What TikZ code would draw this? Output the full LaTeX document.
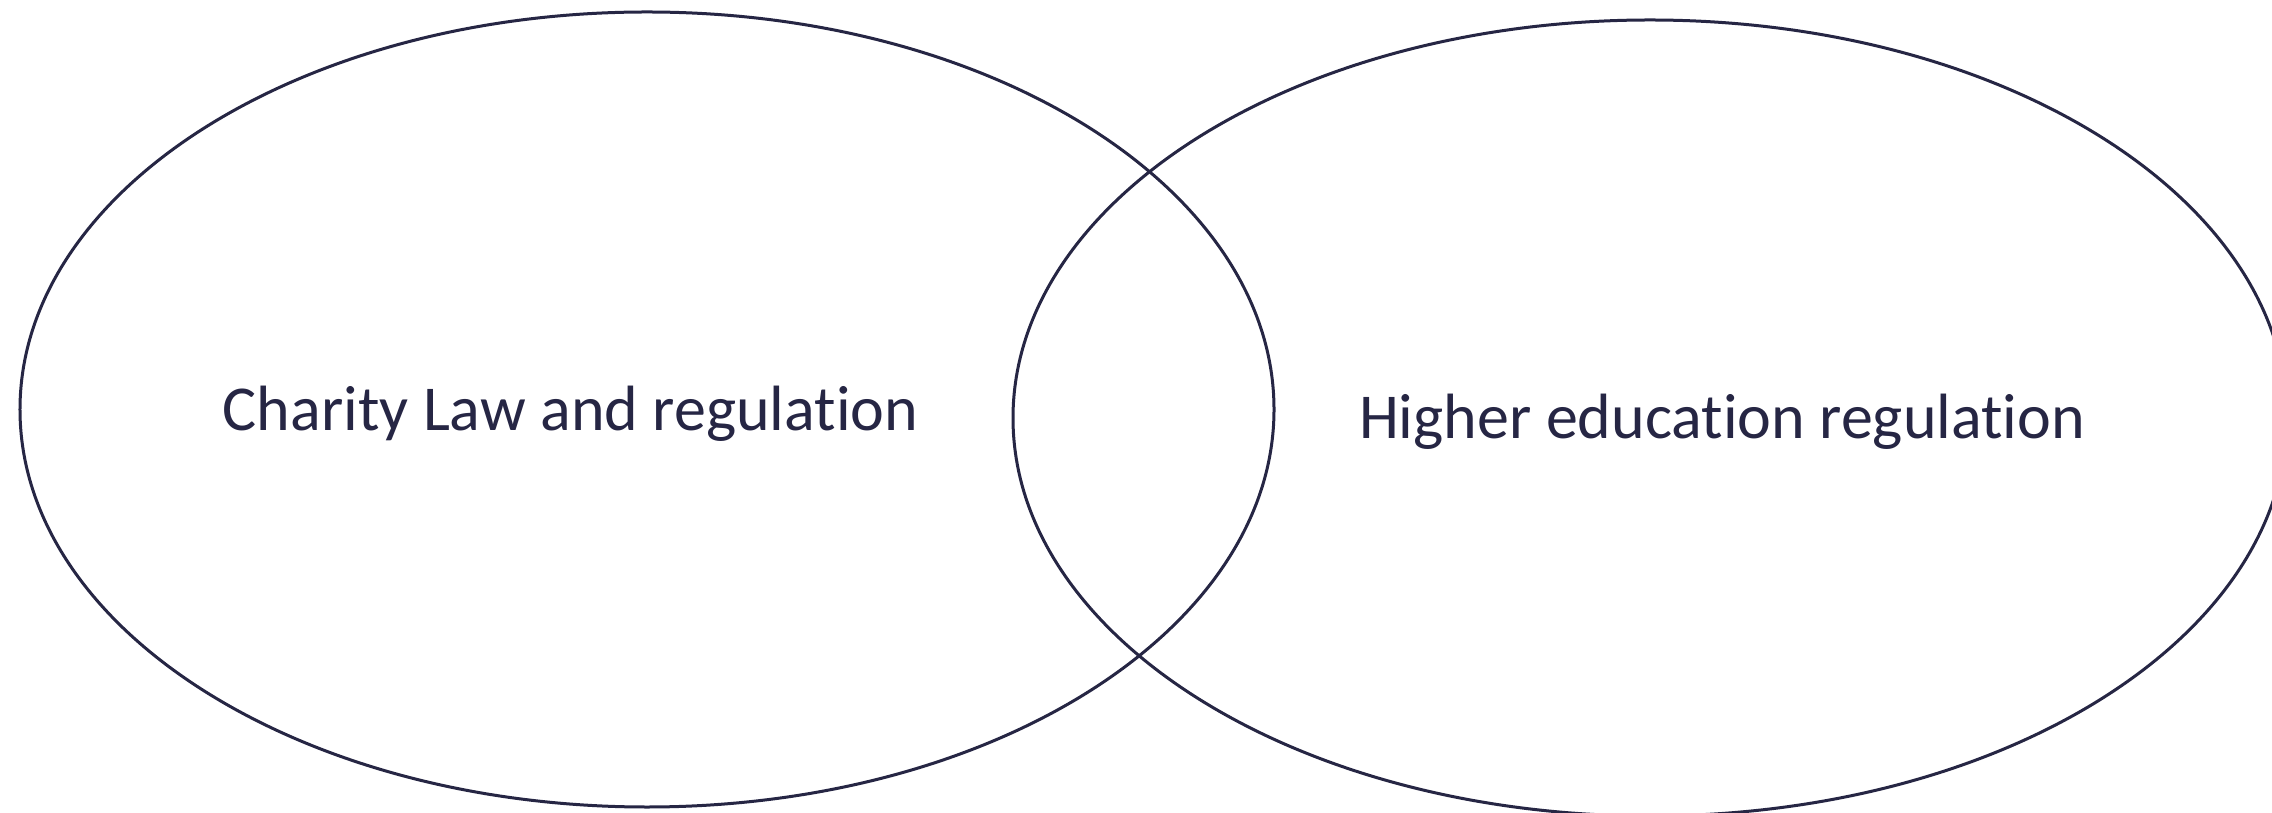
\documentclass[tikz,border=0pt]{standalone}
\usepackage{fontspec}
\setmainfont{Carlito}[Ligatures={NoCommon,NoContextual,NoRequired}]
\usetikzlibrary{shapes.geometric}
\definecolor{ink}{RGB}{38,38,68}
% keep "t" and "i" as separate glyphs (Carlito would join them)
\newcommand{\tisep}{t\kern0pt i}
\tikzset{
  setbox/.style={draw=ink, line width=3bp, ellipse, inner sep=0pt, outer sep=0pt},
  setlabel/.style={text=ink, anchor=base, inner sep=0pt, font=\fontsize{64bp}{72bp}\selectfont}
}
\begin{document}
\begin{tikzpicture}[x=1bp, y=1bp]
  \useasboundingbox (0,0) rectangle (2272,812);
  \clip (0,0) rectangle (2272,812);
  \fill[white] (0,0) rectangle (2272,812);
  % the two overlapping sets
  \node[setbox, minimum width=1254bp, minimum height=795bp] (charity) at (647,402.5) {};
  \node[setbox, minimum width=1274bp, minimum height=796bp] (higher) at (1650,394) {};
  % set labels
  \node[setlabel] (charitylabel) at (570.5,381) {Charity Law and regula\tisep on};
  \node[setlabel] (higherlabel) at (1722,373) {Higher educa\tisep on regula\tisep on};
\end{tikzpicture}
\end{document}
